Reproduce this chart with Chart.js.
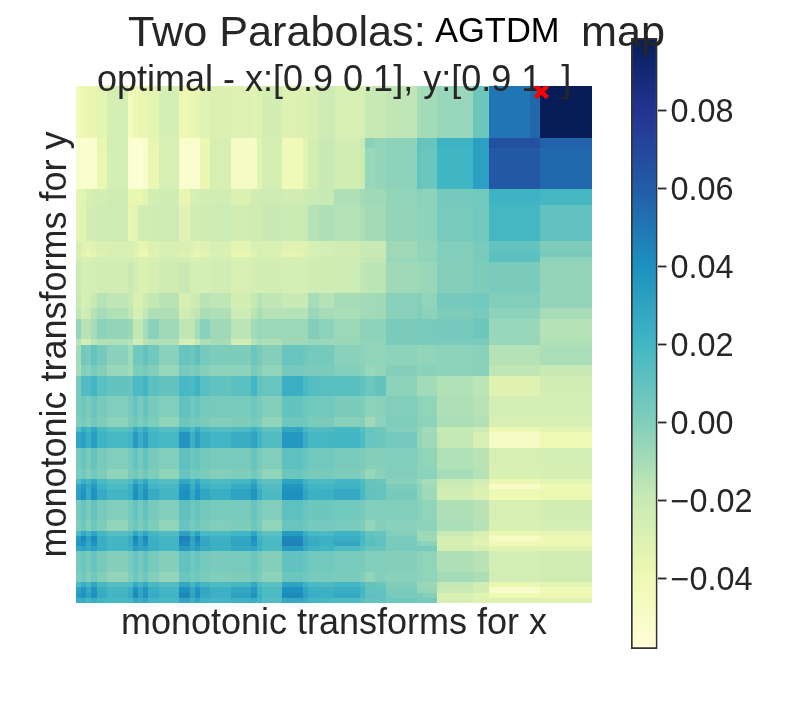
<!DOCTYPE html>
<html>
<head>
<meta charset="utf-8">
<title>Two Parabolas AGTDM map</title>
<script src="https://cdn.jsdelivr.net/npm/chart.js@4/dist/chart.umd.min.js"></script>
<style>
  body { margin: 0; background: #fff; }
  canvas { position: absolute; left: 0; top: 0; }
</style>
</head>
<body>
<canvas id="colorbar" width="792" height="720"></canvas>
<canvas id="heatmap" width="792" height="720"></canvas>
<script>
// grid edges, in transform index (0..100), neighbouring cells with the same look are merged
const colEdges = [0,1,2,3,4,6,10, 11,12,13,14,16,20, 22,23,24,26,30, 34,35,36,40, 44,45,47,50, 55,56,58,60, 66,67,70, 77,80, 88,90, 100];
const rowEdges = [0,10,12,20,23,30,32,33,34,40,43,45,49,50,54,56,60,64,66,67,70,74,76,77,78,80,84,86,87,88,89,90,94,96,97,98,99,100];

// map values, in thousandths, one list per row band
const r00 = [-43,-38,-37,-36,-34,-26, -46,-41,-37,-36,-34,-26, -39,-37,-35,-32,-29, -30,-32,-30,-25, -30,-29,-27,-22, -27,-27,-19,-20, -17,-10,-9, -6,6, 50,56, 99];
const r01 = [-52,-53,-53,-52,-36,-26, -54,-55,-55,-52,-36,-27, -52,-52,-52,-38,-27, -48,-47,-32,-26, -42,-32,-25,-20, -25,-20,-2,-5, -3,10,8, 22,32, 66,66, 58];
const r02 = [-52,-53,-53,-52,-37,-26, -54,-55,-55,-52,-37,-27, -52,-52,-52,-38,-27, -48,-47,-32,-26, -42,-32,-25,-20, -25,-22,-6,-5, -3,9,7, 21,32, 62,62, 55];
const r03 = [-34,-33,-27,-25,-25,-23, -37,-37,-37,-33,-25,-23, -36,-28,-26,-25,-24, -29,-24,-23,-22, -24,-22,-21,-19, -12,-9,-8,-8, -4,-2,-3, 4,5, 22,22, 19];
const r04 = [-34,-33,-25,-24,-23,-22, -36,-34,-24,-24,-23,-22, -32,-24,-24,-23,-22, -24,-23,-23,-20, -21,-20,-14,-12, -14,-11,-9,-9, -5,-3,-3, 3,5, 19,19, 10];
const r05 = [-26,-31,-33,-30,-28,-27, -27,-30,-35,-35,-30,-27, -28,-30,-33,-30,-27, -33,-28,-27,-28, -32,-30,-27,-25, -23,-20,-20,-20, -8,-5,-5, 0,2, 9,9, 1];
const r06 = [-28,-34,-37,-33,-30,-28, -28,-32,-38,-38,-31,-28, -30,-33,-37,-33,-28, -37,-30,-28,-29, -34,-31,-27,-26, -24,-21,-19,-19, -8,-5,-5, 0,2, 12,12, 3];
const r07 = [-25,-28,-28,-27,-26,-26, -25,-28,-30,-30,-27,-25, -26,-28,-28,-27,-26, -28,-26,-26,-26, -27,-26,-24,-23, -22,-19,-18,-18, -6,-4,-4, 0,2, 12,12, -3];
const r08 = [-21,-26,-26,-25,-24,-24, -20,-24,-29,-29,-26,-23, -20,-26,-26,-26,-24, -27,-25,-25,-25, -26,-26,-23,-23, -22,-17,-16,-16, -8,-7,-6, -1,1, 2,2, -5];
const r09 = [-19,-27,-25,-19,-14,-17, -19,-28,-28,-22,-18,-15, -27,-23,-21,-15,-17, -25,-19,-14,-17, -20,-20,-10,-14, -10,-9,-9,-8, -2,-1,-4, 4,5, 0,0, -5];
const r10 = [-17,-24,-20,-14,-10,-13, -17,-26,-26,-18,-12,-12, -24,-19,-17,-11,-12, -22,-16,-11,-14, -14,-14,-6,-10, -11,-9,-9,-8, -2,0,-3, 1,3, -3,-3, -10];
const r11 = [-5,-15,-15,-10,-3,-5, -7,-18,-18,-10,-2,-8, -17,-17,-10,-2,-8, -16,-9,-6,-7, -7,-7,0,-3, -7,-3,-3,-3, 2,3,3, 4,6, -6,-6, -14];
const r12 = [-14,-26,-24,-16,-13,-12, -14,-24,-24,-14,-12,-12, -26,-26,-18,-12,-10, -24,-14,-10,-12, -8,-8,-6,-7, -6,-5,-4,-4, 2,2,2, 2,2, -6,-6, -13];
const r13 = [-9,5,3,9,4,-2, -8,5,5,10,5,-2, 8,6,11,4,1, 1,7,3,-1, 8,6,4,4, -2,-3,-4,-4, -3,-5,-4, -3,-2, -14,-14, -11];
const r14 = [-10,0,-2,3,-1,-6, -9,1,1,3,0,-6, 3,1,3,-1,-3, -3,2,-1,-4, 4,3,2,2, 0,-2,-6,-5, -1,-3,-2, -3,-2, -17,-17, -19];
const r15 = [3,15,15,20,12,9, 8,17,17,21,12,9, 18,17,22,13,10, 12,20,10,8, 24,18,14,13, 13,10,7,9, -3,-9,-9, -13,-16, -31,-31, -25];
const r16 = [3,6,2,8,3,0, 4,8,3,9,3,0, 10,5,8,4,3, 3,6,3,0, 9,7,5,5, 2,1,-3,-2, 0,-3,-4, -12,-15, -26,-26, -26];
const r17 = [1,4,0,5,1,-3, 2,5,1,6,1,-4, 7,3,5,2,0, 1,4,1,-4, 6,5,2,2, -2,0,-8,-3, 1,-2,-3, -11,-13, -27,-27, -27];
const r18 = [15,25,19,28,18,13, 15,26,19,27,17,14, 24,16,26,17,14, 16,23,16,11, 28,19,15,15, 18,14,8,6, -1,-4,-9, -19,-22, -38,-38, -33];
const r19 = [28,32,24,33,22,18, 20,35,24,32,21,18, 37,23,33,24,20, 25,30,21,15, 36,25,19,19, 20,16,8,7, 4,-5,-8, -18,-28, -47,-47, -40];
const r20 = [3,8,3,9,3,0, 4,9,4,10,3,0, 11,6,8,5,3, 3,8,3,0, 11,8,5,5, 3,1,-1,-1, 0,-3,-4, -13,-15, -27,-27, -26];
const r21 = [1,5,0,5,1,-4, 2,5,1,6,1,-4, 8,4,5,2,0, 1,5,1,-4, 7,5,3,3, 1,-1,-6,-2, 0,-3,-3, -10,-14, -28,-28, -27];
const r22 = [15,25,20,28,17,13, 15,26,20,28,17,14, 28,20,28,19,16, 19,27,15,11, 30,22,17,16, 20,15,9,7, -2,-6,-10, -20,-24, -38,-38, -34];
const r23 = [28,35,26,35,22,17, 22,37,27,35,20,18, 37,24,35,23,19, 26,33,20,14, 37,26,21,20, 22,17,9,8, 1,-3,-9, -22,-28, -50,-50, -40];
const r24 = [32,38,25,38,26,20, 24,40,29,39,26,20, 40,27,38,29,24, 30,37,24,17, 40,29,23,23, 27,18,10,9, 4,-3,-8, -25,-30, -40,-40, -38];
const r25 = [3,8,3,9,3,0, 4,9,4,10,3,0, 11,6,9,5,3, 3,8,3,0, 11,8,6,6, 5,3,0,0, 0,-2,-4, -12,-15, -27,-27, -25];
const r26 = [1,6,0,6,1,-4, 2,6,1,7,1,-4, 8,4,6,2,0, 1,6,2,-4, 8,6,4,4, 3,1,-5,-1, -2,-3,-3, -11,-14, -28,-28, -26];
const r27 = [17,28,20,30,19,14, 16,29,21,29,19,15, 31,21,30,18,17, 20,29,16,12, 34,24,18,17, 22,16,9,8, 0,-8,-7, -20,-27, -38,-38, -35];
const r28 = [34,42,30,42,24,19, 24,44,30,42,23,20, 46,30,44,27,22, 28,40,21,16, 44,29,24,23, 25,19,11,10, 2,-8,-8, -26,-30, -48,-48, -40];
const r29 = [36,38,27,38,24,20, 25,40,30,38,24,20, 42,29,39,29,24, 30,36,23,18, 46,31,26,23, 28,18,13,10, 3,-2,-3, -27,-32, -41,-41, -39];
const r30 = [28,31,27,31,24,20, 23,33,28,31,24,20, 35,28,33,26,23, 27,29,23,17, 35,27,22,21, 16,13,8,8, 3,3,3, -25,-27, -32,-32, -32];
const r31 = [3,7,3,8,3,-1, 3,8,4,9,3,-1, 10,5,8,4,2, 3,7,3,-1, 10,8,5,5, 3,2,0,0, -1,-3,-4, -12,-15, -26,-26, -24];
const r32 = [1,5,0,5,0,-5, 1,6,1,6,0,-5, 7,4,5,2,0, 1,5,1,-3, 7,5,3,3, 2,0,-5,-1, -2,-3,-4, -9,-11, -25,-25, -23];
const r33 = [15,25,19,28,18,14, 15,26,20,27,18,15, 28,19,27,19,16, 19,27,16,12, 30,22,17,16, 20,15,9,7, 0,-6,-7, -18,-25, -37,-37, -33];
const r34 = [30,37,27,38,24,19, 24,40,28,37,24,20, 40,27,38,28,23, 28,36,21,16, 40,29,23,23, 25,19,10,9, 2,-4,-5, -20,-25, -50,-50, -41];
const r35 = [35,39,30,40,26,20, 26,42,30,39,26,21, 44,30,40,27,23, 31,38,23,17, 42,31,25,23, 27,18,11,10, 3,2,-1, -28,-32, -40,-40, -39];
const r36 = [23,25,21,25,20,18, 20,27,24,27,20,18, 29,23,29,22,20, 23,25,20,15, 27,25,20,18, 16,12,9,9, 6,4,4, -27,-30, -30,-30, -31];
const heatRows = [r00,r01,r02,r03,r04,r05,r06,r07,r08,r09,r10,r11,r12,r13,r14,r15,r16,r17,r18,r19,r20,r21,r22,r23,r24,r25,r26,r27,r28,r29,r30,r31,r32,r33,r34,r35,r36];

const optimalPoint = [{ x: 90.2, y: 1.1 }];
const colorbarTicks = [-0.04, -0.02, 0, 0.02, 0.04, 0.06, 0.08];
const vMin = -0.058;
const vMax = 0.0985;
const ylGnBu = ["#ffffd9", "#edf8b1", "#c7e9b4", "#7fcdbb", "#41b6c4", "#1d91c0", "#225ea8", "#253494", "#081d58"];

const titleMain = "Two Parabolas:";
const titleAlgo = "AGTDM";
const titleEnd = "map";
const subtitle = "optimal - x:[0.9 0.1], y:[0.9 1. ]";
const xLabel = "monotonic transforms for x";
const yLabel = "monotonic transforms for y";

const FONT = "'Liberation Sans', Arial, sans-serif";
const INK = "#262626";

function hexToRgb(hex) {
  return [1, 3, 5].map((i) => parseInt(hex.slice(i, i + 2), 16));
}

// same lookup the colorbar gradient does
function colorFor(v) {
  const t = Math.min(1, Math.max(0, (v - vMin) / (vMax - vMin))) * (ylGnBu.length - 1);
  const i = Math.min(ylGnBu.length - 2, Math.floor(t));
  const a = hexToRgb(ylGnBu[i]);
  const b = hexToRgb(ylGnBu[i + 1]);
  const f = t - i;
  return `rgb(${a.map((c, k) => Math.round(c + (b[k] - c) * f)).join(",")})`;
}

const cells = [];
heatRows.forEach((row, r) => {
  row.forEach((milli, c) => {
    cells.push({
      x: (colEdges[c] + colEdges[c + 1]) / 2,
      y: (rowEdges[r] + rowEdges[r + 1]) / 2,
      x0: colEdges[c], x1: colEdges[c + 1],
      y0: rowEdges[r], y1: rowEdges[r + 1],
      v: milli / 1000,
    });
  });
});

const heatCellsPlugin = {
  id: "heatCells",
  beforeDatasetsDraw(chart) {
    const { ctx, scales: { x, y } } = chart;
    ctx.save();
    cells.forEach((cell) => {
      const left = Math.round(x.getPixelForValue(cell.x0));
      const right = Math.round(x.getPixelForValue(cell.x1));
      const top = Math.round(y.getPixelForValue(cell.y0));
      const bottom = Math.round(y.getPixelForValue(cell.y1));
      ctx.fillStyle = colorFor(cell.v);
      ctx.fillRect(left, top, right - left, bottom - top);
    });

    // titles go on top of the cells but under the red marker
    ctx.textBaseline = "alphabetic";
    ctx.textAlign = "left";
    ctx.fillStyle = INK;
    ctx.font = `43.2px ${FONT}`;
    ctx.fillText(titleMain, 128, 46);
    ctx.fillText(titleEnd, 581, 46);
    ctx.font = `36px ${FONT}`;
    ctx.fillText(subtitle, 97, 91);
    ctx.fillStyle = "#000";
    ctx.font = `34.5px ${FONT}`;
    ctx.fillText(titleAlgo, 435, 42);
    ctx.restore();
  },
};

new Chart(document.getElementById("heatmap"), {
  type: "scatter",
  data: {
    datasets: [
      { label: "cells", data: cells, pointRadius: 0, pointHoverRadius: 0 },
      {
        label: "optimal",
        data: optimalPoint,
        pointStyle: "crossRot",
        pointRadius: 8.5,
        pointBorderWidth: 4.5,
        pointBorderColor: "#ff0000",
        borderColor: "#ff0000",
      },
    ],
  },
  options: {
    responsive: false,
    animation: false,
    devicePixelRatio: 1,
    layout: { padding: { top: 86, right: 200 } },
    plugins: { legend: { display: false }, tooltip: { enabled: false } },
    scales: {
      x: {
        type: "linear",
        min: 0,
        max: 100,
        ticks: { display: false },
        grid: { display: false },
        border: { display: false },
        title: {
          display: true,
          text: xLabel,
          color: INK,
          font: { family: FONT, size: 36 },
          padding: { top: 0, bottom: 74 },
        },
        afterFit: (scale) => { scale.height = 117; },
      },
      y: {
        type: "linear",
        reverse: true,
        min: 0,
        max: 100,
        ticks: { display: false },
        grid: { display: false },
        border: { display: false },
        title: {
          display: true,
          text: yLabel,
          color: INK,
          font: { family: FONT, size: 36 },
          padding: { top: 34, bottom: 0 },
        },
        afterFit: (scale) => { scale.width = 76; },
      },
    },
  },
  plugins: [heatCellsPlugin],
});

new Chart(document.getElementById("colorbar"), {
  type: "bar",
  data: {
    labels: [""],
    datasets: [
      {
        data: [[vMin, vMax]],
        barPercentage: 1,
        categoryPercentage: 1,
        borderWidth: 2,
        borderColor: "#333333",
        borderSkipped: false,
        backgroundColor(context) {
          const { chart } = context;
          if (!chart.chartArea) return ylGnBu[0];
          const grad = chart.ctx.createLinearGradient(0, chart.chartArea.bottom, 0, chart.chartArea.top);
          ylGnBu.forEach((c, i) => grad.addColorStop(i / (ylGnBu.length - 1), c));
          return grad;
        },
      },
    ],
  },
  options: {
    responsive: false,
    animation: false,
    devicePixelRatio: 1,
    layout: { padding: { top: 38, bottom: 71, left: 631 } },
    plugins: { legend: { display: false }, tooltip: { enabled: false } },
    scales: {
      x: {
        display: false,
      },
      y: {
        position: "right",
        min: vMin,
        max: vMax,
        afterBuildTicks: (scale) => { scale.ticks = colorbarTicks.map((value) => ({ value })); },
        afterFit: (scale) => { scale.width = 134.5; },
        ticks: {
          color: INK,
          font: { family: FONT, size: 32.4 },
          padding: 4,
          labelOffset: 2.5,
          callback: (v) => v.toFixed(2).replace("-", "\u2212"),
        },
        grid: { drawOnChartArea: false, tickColor: INK, tickLength: 9, tickWidth: 1.8 },
        border: { display: false },
      },
    },
  },
});
</script>
</body>
</html>
